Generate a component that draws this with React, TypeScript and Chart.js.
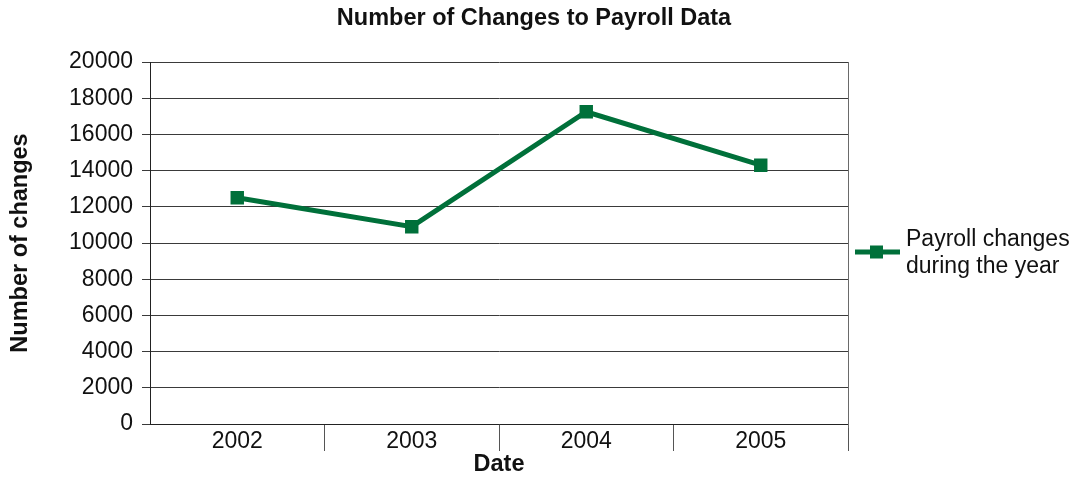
import React, { useEffect, useRef } from "react";
import { Chart, registerables } from "chart.js";

Chart.register(...registerables);

// Payroll change counts per year
const years = ["2002", "2003", "2004", "2005"];
const payrollChanges = [12500, 10900, 17250, 14300];
const seriesLabelLines = ["Payroll changes", "during the year"];
const chartTitle = "Number of Changes to Payroll Data";
const xTitle = "Date";
const yTitle = "Number of changes";

const FONT = "'Liberation Sans', Arial, Helvetica, sans-serif";
const GREEN = "#00703A";
const TEXT = "#111111";
const GRID = "#3a3a3a";

// Draws the centred title, the frame's right edge and the two-line legend
const decorations = {
  id: "decorations",
  afterDraw(chart: any) {
    const { ctx, chartArea } = chart;
    ctx.save();

    // title
    ctx.fillStyle = TEXT;
    ctx.font = `bold 23.5px ${FONT}`;
    ctx.textAlign = "center";
    ctx.textBaseline = "middle";
    ctx.fillText(chartTitle, 534, 19);

    // right edge of the plot frame
    ctx.strokeStyle = "#6a6a6a";
    ctx.lineWidth = 1;
    ctx.beginPath();
    ctx.moveTo(Math.round(chartArea.right) + 0.5, chartArea.top);
    ctx.lineTo(Math.round(chartArea.right) + 0.5, chartArea.bottom + 4);
    ctx.stroke();

    // legend
    const ly = 252;
    ctx.strokeStyle = GREEN;
    ctx.lineWidth = 5;
    ctx.beginPath();
    ctx.moveTo(855, ly);
    ctx.lineTo(900, ly);
    ctx.stroke();
    ctx.fillStyle = GREEN;
    ctx.fillRect(870, ly - 6.5, 13, 13);

    ctx.fillStyle = TEXT;
    ctx.font = `23px ${FONT}`;
    ctx.textAlign = "left";
    ctx.textBaseline = "middle";
    seriesLabelLines.forEach((line, i) => {
      ctx.fillText(line, 906, 240 + i * 27);
    });
    ctx.restore();
  },
};

export default function App() {
  const canvasRef = useRef<HTMLCanvasElement | null>(null);

  useEffect(() => {
    if (!canvasRef.current) return;
    const chart = new Chart(canvasRef.current, {
      type: "line",
      data: {
        labels: years,
        datasets: [
          {
            label: seriesLabelLines.join(" "),
            data: payrollChanges,
            borderColor: GREEN,
            backgroundColor: GREEN,
            borderWidth: 5,
            pointStyle: "rect",
            pointRadius: 9.5,
            pointHoverRadius: 9.5,
            pointBorderWidth: 0,
            tension: 0,
          },
        ],
      },
      options: {
        animation: false,
        responsive: true,
        maintainAspectRatio: false,
        layout: { padding: { left: 0, top: 62, right: 231, bottom: 0 } },
        plugins: {
          legend: { display: false },
          title: { display: false },
          tooltip: { enabled: false },
        },
        scales: {
          x: {
            offset: true,
            grid: {
              offset: true,
              drawOnChartArea: false,
              drawTicks: true,
              tickLength: 27,
              color: (c: any) =>
                c.index === 0 || c.index === years.length ? "rgba(0,0,0,0)" : "#555555",
              lineWidth: 1,
            },
            border: { display: true, color: "#222222", width: 1 },
            ticks: {
              color: TEXT,
              font: { family: FONT, size: 23 },
              padding: -23,
              maxRotation: 0,
            },
            title: {
              display: true,
              text: xTitle,
              color: TEXT,
              font: { family: FONT, size: 23.5, weight: "bold" },
              padding: { top: 0, bottom: 0 },
            },
            afterFit: (scale: any) => {
              scale.height = 55;
            },
          },
          y: {
            min: 0,
            max: 20000,
            grid: {
              color: GRID,
              lineWidth: 1,
              drawTicks: true,
              tickLength: 8,
            },
            border: { display: true, color: "#222222", width: 1 },
            ticks: {
              stepSize: 2000,
              color: TEXT,
              font: { family: FONT, size: 23 },
              padding: 9,
              callback: (v: any) => String(v),
            },
            title: {
              display: true,
              text: yTitle,
              color: TEXT,
              font: { family: FONT, size: 23.5, weight: "bold" },
              padding: { top: 6, bottom: 0 },
            },
            afterFit: (scale: any) => {
              scale.width = 150;
            },
          },
        },
      },
      plugins: [decorations],
    });
    return () => chart.destroy();
  }, []);

  return (
    <div style={{ position: "fixed", left: 0, top: 0, width: 1079, height: 479, background: "#ffffff" }}>
      <canvas ref={canvasRef} />
    </div>
  );
}
